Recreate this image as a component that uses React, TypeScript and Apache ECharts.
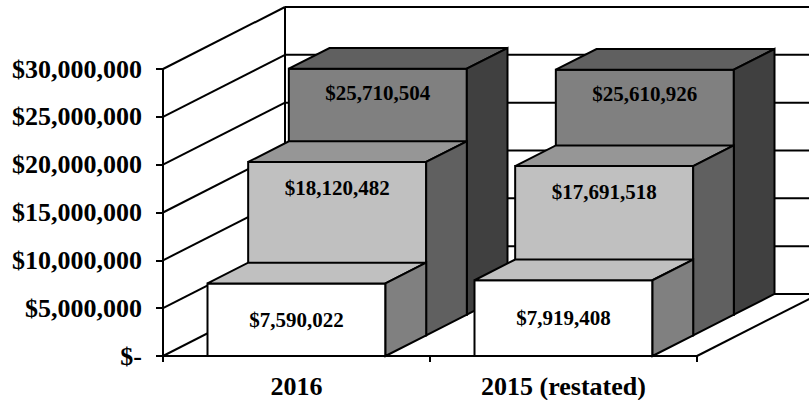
import React, { useEffect, useRef } from "react";
import * as echarts from "echarts";

const categories = ["2016", "2015 (restated)"];
const frontValues = [7590022, 7919408];
const middleValues = [18120482, 17691518];
const backValues = [25710504, 25610926];
const yMin = 0;
const yMax = 30000000;
const yInterval = 5000000;
const wallTicks = [0, 5000000, 10000000, 15000000, 20000000, 25000000, 30000000];

// style / layout constants
const DEPTH_X = 122;
const DEPTH_Y = -62;
const ROWS = 3;
const FONT = "'Liberation Serif', 'Times New Roman', serif";
const rowColors = [
  { front: "#ffffff", top: "#c0c0c0", side: "#808080" },
  { front: "#c0c0c0", top: "#969696", side: "#606060" },
  { front: "#808080", top: "#606060", side: "#404040" },
];
const labelOffsets = [-1, 26, 24]; // -1 => centered on front face

const money = (v: number) => "$" + Math.round(v).toLocaleString("en-US");

function makeBarSeries(name: string, values: number[], row: number) {
  const c = rowColors[row];
  return {
    type: "custom",
    name,
    clip: false,
    z: 10 - row,
    data: values.map((v, i) => [i, v]),
    encode: { x: 0, y: 1 },
    renderItem: (params: any, api: any) => {
      const ci = api.value(0);
      const v = api.value(1);
      const topPt = api.coord([ci, v]);
      const basePt = api.coord([ci, 0]);
      const cw = api.size([1, 0])[0];
      const bw = cw / 1.5;
      const ox = (row * DEPTH_X) / ROWS;
      const oy = (row * DEPTH_Y) / ROWS;
      const dx = DEPTH_X / ROWS;
      const dy = DEPTH_Y / ROWS;
      const x0 = topPt[0] - bw / 2 + ox;
      const x1 = topPt[0] + bw / 2 + ox;
      const yT = topPt[1] + oy;
      const yB = basePt[1] + oy;
      const stroke = { stroke: "#000", lineWidth: 2, lineJoin: "miter" };
      const ly = labelOffsets[row] < 0 ? (yT + yB) / 2 : yT + labelOffsets[row];
      return {
        type: "group",
        children: [
          {
            type: "polygon",
            shape: { points: [[x0, yT], [x1, yT], [x1, yB], [x0, yB]] },
            style: { fill: c.front, ...stroke },
          },
          {
            type: "polygon",
            shape: { points: [[x0, yT], [x1, yT], [x1 + dx, yT + dy], [x0 + dx, yT + dy]] },
            style: { fill: c.top, ...stroke },
          },
          {
            type: "polygon",
            shape: { points: [[x1, yT], [x1 + dx, yT + dy], [x1 + dx, yB + dy], [x1, yB]] },
            style: { fill: c.side, ...stroke },
          },
          {
            type: "text",
            x: (x0 + x1) / 2,
            y: ly,
            style: {
              text: money(v),
              fontSize: 21,
              fontWeight: "bold",
              fontFamily: FONT,
              fill: "#000",
              align: "center",
              verticalAlign: "middle",
            },
          },
        ],
      };
    },
  };
}

export default function App() {
  const ref = useRef<HTMLDivElement>(null);
  useEffect(() => {
    document.body.style.margin = "0";
    const chart = echarts.init(ref.current!, null, { renderer: "svg" });
    const wallSeries = {
      type: "custom",
      name: "walls",
      clip: false,
      z: 1,
      silent: true,
      data: wallTicks.map((v) => [0, v]),
      encode: { x: 0, y: 1 },
      renderItem: (params: any, api: any) => {
        const cs = params.coordSys;
        const v = api.value(1);
        const y = api.coord([0, v])[1];
        const y0 = api.coord([0, yMin])[1];
        const xl = cs.x;
        const xr = cs.x + cs.width;
        const ls = { stroke: "#000", lineWidth: 2 };
        const children: any[] = [
          { type: "line", shape: { x1: xl, y1: y, x2: xl + DEPTH_X, y2: y + DEPTH_Y }, style: ls },
          { type: "line", shape: { x1: xl + DEPTH_X, y1: y + DEPTH_Y, x2: xr + DEPTH_X, y2: y + DEPTH_Y }, style: ls },
        ];
        if (v === yMin) {
          children.push({ type: "line", shape: { x1: xr, y1: y, x2: xr + DEPTH_X, y2: y + DEPTH_Y }, style: ls });
        }
        if (v === yMax) {
          children.push({ type: "line", shape: { x1: xl + DEPTH_X, y1: y + DEPTH_Y, x2: xl + DEPTH_X, y2: y0 + DEPTH_Y }, style: ls });
          children.push({ type: "line", shape: { x1: xr + DEPTH_X, y1: y + DEPTH_Y, x2: xr + DEPTH_X, y2: y0 + DEPTH_Y }, style: ls });
        }
        return { type: "group", children };
      },
    };
    chart.setOption({
      animation: false,
      backgroundColor: "#ffffff",
      grid: { left: 163, right: 112, top: 69, bottom: 44, outerBoundsMode: "none", containLabel: false },
      xAxis: {
        type: "category",
        data: categories,
        boundaryGap: true,
        axisLine: { show: true, lineStyle: { color: "#000", width: 2 } },
        axisTick: { show: true, length: 6, lineStyle: { color: "#000", width: 2 } },
        axisLabel: { color: "#000", fontSize: 26, fontWeight: "bold", fontFamily: FONT, margin: 17 },
        splitLine: { show: false },
        z: 20,
      },
      yAxis: {
        type: "value",
        min: yMin,
        max: yMax,
        interval: yInterval,
        axisLine: { show: true, lineStyle: { color: "#000", width: 2 } },
        axisTick: { show: true, length: 7, lineStyle: { color: "#000", width: 2 } },
        axisLabel: {
          color: "#000",
          fontSize: 26,
          fontWeight: "bold",
          fontFamily: FONT,
          margin: 21,
          formatter: (v: number) => (v === 0 ? "$-" : money(v)),
        },
        splitLine: { show: false },
        z: 20,
      },
      series: [
        wallSeries,
        makeBarSeries("Back", backValues, 2),
        makeBarSeries("Middle", middleValues, 1),
        makeBarSeries("Front", frontValues, 0),
      ],
    });
    return () => chart.dispose();
  }, []);
  return <div ref={ref} style={{ width: 809, height: 400 }} />;
}
